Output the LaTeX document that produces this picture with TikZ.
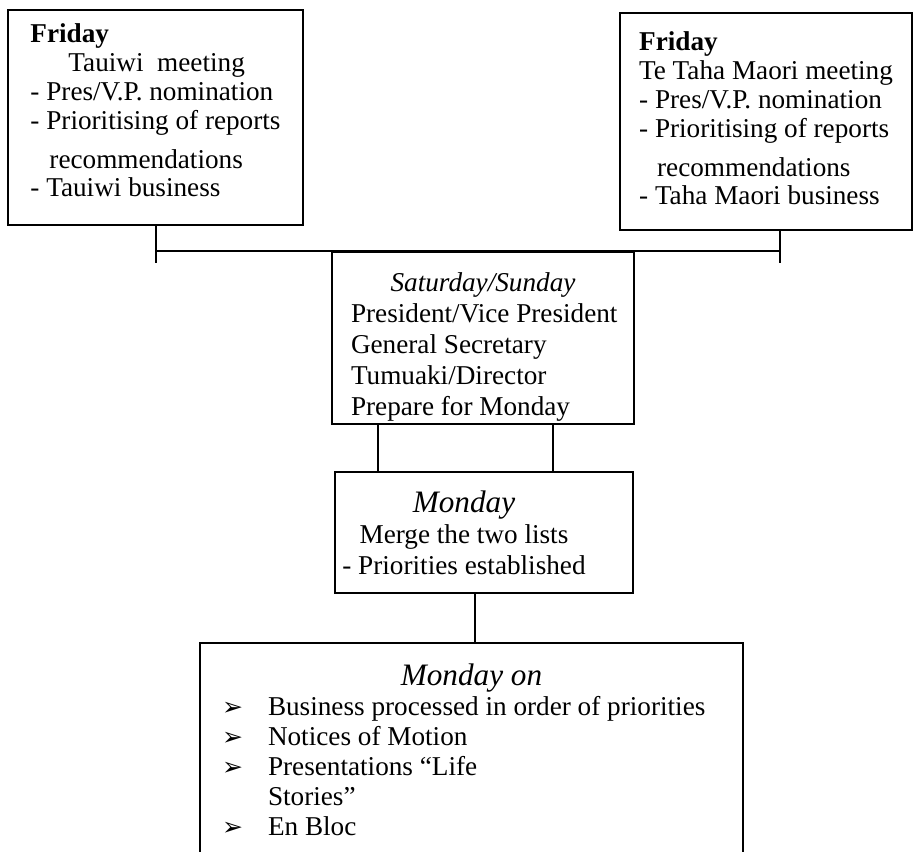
\documentclass[tikz,border=0pt]{standalone}
\usepackage{fontspec}
\setmainfont{Liberation Serif}
\newfontfamily\symfont{DejaVu Sans}
\usetikzlibrary{positioning}

\tikzset{
  box/.style={draw, line width=1pt, inner sep=0pt, align=left,
    font=\fontsize{13.6}{14.4}\selectfont},
  link/.style={line width=1pt}
}
\newcommand{\bigit}[1]{{\fontsize{15.6}{15.6}\selectfont\textit{#1}}}
\newcommand{\sline}[1]{\makebox[132pt][l]{#1}}
\newcommand{\arrbul}{\makebox[23pt][l]{\symfont\fontsize{12.5}{12.5}\selectfont ➢}}
\newcommand{\bline}[1]{\makebox[249.5pt][l]{#1}}

\begin{document}
\begin{tikzpicture}[x=0.5pt, y=-0.5pt]
  \useasboundingbox (0,0) rectangle (913,851);

  % Friday meetings
  \node[box, minimum width=147.5pt, minimum height=107.5pt] (tauiwi) at (155.5,117.5)
    {\textbf{Friday}\\
     \hspace*{19pt}Tauiwi\ \ meeting\\
     - Pres/V.P. nomination\\
     - Prioritising of reports\\[5pt]
     \hspace*{9.5pt}recommendations\\
     - Tauiwi business\rule[-7pt]{0pt}{7pt}};
  \node[box, minimum width=146pt, minimum height=108.5pt] (maori) at (766,121.5)
    {\textbf{Friday}\\
     Te Taha Maori meeting\\
     - Pres/V.P. nomination\\
     - Prioritising of reports\\[5pt]
     \hspace*{9pt}recommendations\\
     - Taha Maori business\rule[-3pt]{0pt}{3pt}};

  % Weekend
  \node[box, align=center, font=\fontsize{13.6}{15.5}\selectfont,
    minimum width=151pt, minimum height=86pt] (weekend) at (483,338)
    {\rule{0pt}{18.5pt}\textit{Saturday/Sunday}\\
     \sline{President/Vice President}\\
     \sline{General Secretary}\\
     \sline{Tumuaki/Director}\\
     \sline{Prepare for Monday}};

  % Monday
  \node[box, align=center, font=\fontsize{13.6}{15.5}\selectfont,
    minimum width=149pt, minimum height=60.5pt] (monday) at (484,532.5)
    {\begin{tabular}{@{}c@{\hspace{20pt}}}
       \rule{0pt}{16pt}\bigit{Monday}\\
       Merge the two lists\\
       - Priorities established
     \end{tabular}};

  % Monday on (open at the bottom of the page)
  \node[box, align=center, font=\fontsize{13.6}{15}\selectfont,
    minimum width=271.5pt, minimum height=107pt] (mondayon) at (471.5,750)
    {\bigit{Monday on}\\
     \bline{\arrbul Business processed in order of priorities}\\
     \bline{\arrbul Notices of Motion}\\
     \bline{\arrbul Presentations “Life}\\
     \bline{\hspace*{23pt}Stories”}\\
     \bline{\arrbul En Bloc}};

  % Connectors
  \draw[link] (tauiwi.south) -- ++(0,37);
  \draw[link] ([xshift=7pt]maori.south) -- ++(0,32);
  \draw[link] (tauiwi.south |- weekend.north) -- ([xshift=7pt]maori.south |- weekend.north);
  \draw[link] ([xshift=-52.5pt]weekend.south) -- ([xshift=-52.5pt]weekend.south |- monday.north);
  \draw[link] ([xshift=35pt]weekend.south) -- ([xshift=35pt]weekend.south |- monday.north);
  \draw[link] ([xshift=-4.5pt]monday.south) -- ([xshift=-4.5pt]monday.south |- mondayon.north);
\end{tikzpicture}
\end{document}
